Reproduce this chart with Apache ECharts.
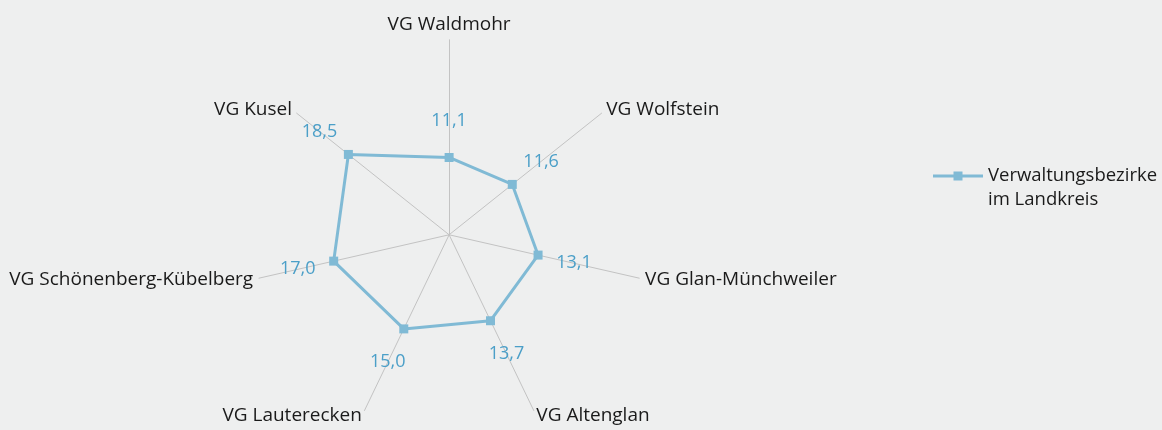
<!DOCTYPE html>
<html><head><meta charset="utf-8">
<script src="https://cdn.jsdelivr.net/npm/echarts@6/dist/echarts.min.js"></script>
<style>html,body{margin:0;padding:0;background:#eeefef;}#c{width:1162px;height:430px;}</style>
</head><body><div id="c"></div>
<script>
// clockwise order starting at top
const categories = ['VG Waldmohr','VG Wolfstein','VG Glan-Münchweiler','VG Altenglan','VG Lauterecken','VG Schönenberg-Kübelberg','VG Kusel'];
const values = [11.1, 11.6, 13.1, 13.7, 15.0, 17.0, 18.5];
const seriesName = 'Verwaltungsbezirke\nim Landkreis';
const axisMax = 28;
const labelOffset = 5.3;

// ECharts radar runs counter-clockwise: keep first, reverse rest
const order = [0].concat(categories.map((_, i) => i).slice(1).reverse());
const cats = order.map(i => categories[i]);
const vals = order.map(i => values[i]);
const fmt = v => v.toFixed(1).replace('.', ',');

const font = '"Open Sans", sans-serif';
const chart = echarts.init(document.getElementById('c'));
chart.setOption({
  backgroundColor: '#eeefef',
  animation: false,
  legend: {
    data: [seriesName],
    left: 928, top: 135,
    orient: 'vertical',
    itemWidth: 50, itemHeight: 9,
    icon: 'path://M0,3H20.5V0H29.5V3H50V6H29.5V9H20.5V6H0Z',
    itemGap: 8,
    formatter: n => '\n' + n,
    textStyle: { fontFamily: font, fontSize: 18.5, color: '#1a1a1a', lineHeight: 24 }
  },
  radar: {
    center: ['38.65%', '54.6%'],
    radius: 195,
    startAngle: 90,
    shape: 'polygon',
    indicator: cats.map(n => ({ name: n, min: 0, max: axisMax })),
    axisName: { color: '#1a1a1a', fontFamily: font, fontSize: 19 },
    nameGap: 6,
    splitLine: { show: false },
    splitArea: { show: false },
    axisLine: { lineStyle: { color: '#c3c3c3', width: 1 } },
    axisTick: { show: false },
    axisLabel: { show: false }
  },
  series: [{
    name: seriesName,
    type: 'radar',
    symbol: 'rect',
    symbolSize: 9,
    lineStyle: { color: '#80bad5', width: 3 },
    itemStyle: { color: '#80bad5' },
    data: [{ name: seriesName, value: vals }]
  }, {
    name: 'labels',
    type: 'radar',
    symbol: 'circle',
    symbolSize: 1,
    silent: true,
    lineStyle: { width: 0, opacity: 0 },
    itemStyle: { color: 'rgba(0,0,0,0)' },
    label: {
      show: true,
      position: 'inside',
      color: '#4b9fc8',
      fontFamily: font,
      fontSize: 18,
      formatter: p => fmt(vals[p.dimensionIndex])
    },
    data: [{ value: vals.map(v => v + labelOffset) }]
  }]
});
</script></body></html>
